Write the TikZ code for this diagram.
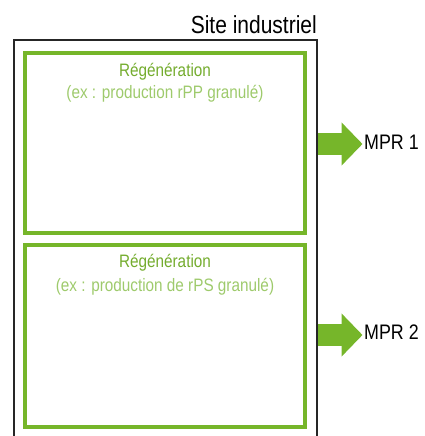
\documentclass[tikz,border=0pt]{standalone}
\usepackage{fontspec}
\newfontfamily\narrowfont{Liberation Sans}[FakeStretch=0.85]
\usepackage{tikz}
\usetikzlibrary{
    arrows.meta,
    calc,
    positioning
}
\definecolor{regreen}{RGB}{118,182,42}
\definecolor{regtext}{RGB}{116,172,46}
\definecolor{regnote}{RGB}{158,202,108}
\tikzset{
    every picture/.style = {
        x = 1pt,
        y = -1pt
    },
    site/.style = {
        draw = black!85,
        line width = 2pt,
        minimum width = 303pt,
        minimum height = 420pt
    },
    regbox/.style = {
        draw = regreen,
        line width = 3.4pt,
        minimum width = 280pt
    },
    regtitle/.style = {
        inner sep = 0pt,
        text = regtext,
        font = \narrowfont\fontsize{18}{20}\selectfont
    },
    regnote/.style = {
        inner sep = 0pt,
        text = regnote,
        font = \narrowfont\fontsize{18}{20}\selectfont
    },
    label/.style = {
        inner sep = 0pt,
        text = black,
        font = \narrowfont\fontsize{#1}{#1}\selectfont
    },
    mprarrow/.style = {
        draw = regreen,
        line width = 22pt,
        shorten > = 1.5pt,
        -{Triangle[length = 21pt, width = 42pt]}
    }
}

\begin{document}
\begin{tikzpicture}
    \useasboundingbox (0,0) rectangle (424,436);
    \clip (0,0) rectangle (424,436);
    % outer site
    \node[site] (site) at (165.5,250) {};
    \node[label = 24.7, anchor = base east] (sitename) at (317,34) {Site industriel};
    % regeneration units
    \node[regbox, minimum height = 180pt] (regen1) at (165,143) {};
    \node[regbox, minimum height = 182pt] (regen2) at (165,336) {};
    \node[regtitle] (title1) at (165,72) {Régénération};
    \node[regnote] (note1) at (165,94) {(ex : production rPP granulé)};
    \node[regtitle] (title2) at (165,263) {Régénération};
    \node[regnote] (note2) at (165,287) {(ex : production de rPS granulé)};
    % outputs
    \node[label = 21, anchor = base west] (mpr1) at (364,149) {MPR 1};
    \node[label = 21, anchor = base west] (mpr2) at (364,339) {MPR 2};
    \coordinate (out1) at (site.east |- 0,144);
    \coordinate (out2) at (site.east |- 0,335);
    \draw[mprarrow] (out1) -- (out1 -| mpr1.west);
    \draw[mprarrow] (out2) -- (out2 -| mpr2.west);
\end{tikzpicture}
\end{document}
